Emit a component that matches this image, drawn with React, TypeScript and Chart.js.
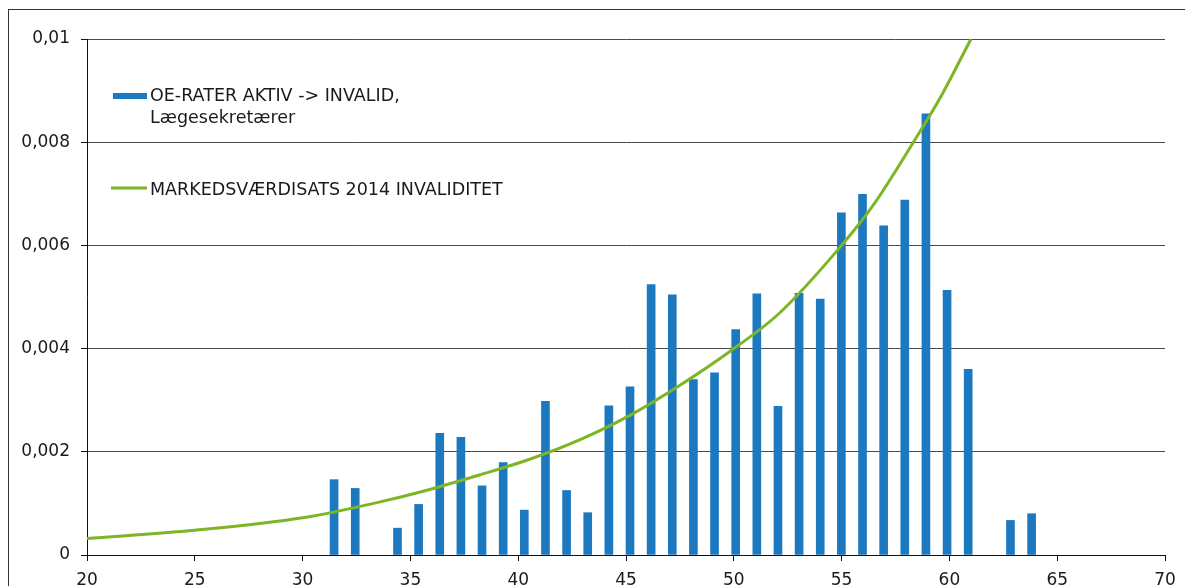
import React, { useEffect, useRef } from 'react';
import { Chart, registerables } from 'chart.js';

Chart.register(...registerables);

// Bars: observed rates per age (category axis 20..70 in the original)
const barAges = [31, 32, 34, 35, 36, 37, 38, 39, 40, 41, 42, 43, 44, 45, 46, 47, 48, 49, 50, 51, 52, 53, 54, 55, 56, 57, 58, 59, 60, 61, 63, 64];
const barRates = [0.00146, 0.00129, 0.00052, 0.00098, 0.00236, 0.00228, 0.00134, 0.00179, 0.00087, 0.00298, 0.00125, 0.00082, 0.00289, 0.00326, 0.00524, 0.00504, 0.00340, 0.00353, 0.00437, 0.00506, 0.00288, 0.00507, 0.00496, 0.00663, 0.00699, 0.00638, 0.00688, 0.00855, 0.00513, 0.00360, 0.00067, 0.00080];

// Line: market-value rate curve (read at these ages)
const curveAges = [20, 25, 30, 33.6, 35.9, 38.2, 40.5, 42.9, 45.2, 47.5, 49.8, 52.1, 55, 56.5, 58.3, 59.6, 61];
const curveRates = [0.00032, 0.00048, 0.00072, 0.00103, 0.00127, 0.00155, 0.00185, 0.00224, 0.00271, 0.00329, 0.00394, 0.00468, 0.00600, 0.00680, 0.00798, 0.00888, 0.01000];

const xTickLabels = ['20', '25', '30', '35', '40', '45', '50', '55', '60', '65', '70'];
const yTickLabels = ['0', '0,002', '0,004', '0,006', '0,008', '0,01'];

const barLabelLines = ['OE-RATER AKTIV -> INVALID,', 'Lægesekretærer'];
const lineLabel = 'MARKEDSVÆRDISATS 2014 INVALIDITET';

const BAR_COLOR = '#1c79c0';
const LINE_COLOR = '#7db524';
const TEXT_COLOR = '#1a1a1a';
const FONT = '"DejaVu Sans", Verdana, sans-serif';

export default function App() {
  const canvasRef = useRef<HTMLCanvasElement | null>(null);

  useEffect(() => {
    const canvas = canvasRef.current;
    if (!canvas) return;

    const framePlugin = {
      id: 'frame',
      beforeDraw(chart: any) {
        const ctx = chart.ctx;
        ctx.save();
        ctx.fillStyle = '#ffffff';
        ctx.fillRect(0, 0, chart.width, chart.height);
        ctx.strokeStyle = '#333333';
        ctx.lineWidth = 1;
        ctx.strokeRect(8.5, 9.5, chart.width + 50, chart.height + 50);
        ctx.restore();
      },
    };

    const legendPlugin = {
      id: 'insideLegend',
      afterDraw(chart: any) {
        const ctx = chart.ctx;
        const a = chart.chartArea;
        const mx = a.left + 26;
        const tx = a.left + 63;
        ctx.save();
        ctx.fillStyle = BAR_COLOR;
        ctx.fillRect(mx, a.top + 54, 34, 6);
        ctx.strokeStyle = LINE_COLOR;
        ctx.lineWidth = 3;
        ctx.beginPath();
        ctx.moveTo(mx - 2, a.top + 149);
        ctx.lineTo(mx + 34, a.top + 149);
        ctx.stroke();
        ctx.fillStyle = TEXT_COLOR;
        ctx.font = '17.5px ' + FONT;
        ctx.textBaseline = 'alphabetic';
        ctx.textAlign = 'left';
        ctx.fillText(barLabelLines[0], tx, a.top + 62);
        ctx.fillText(barLabelLines[1], tx, a.top + 84);
        ctx.fillText(lineLabel, tx, a.top + 156);
        ctx.restore();
      },
    };

    const chart = new Chart(canvas, {
      type: 'bar',
      data: {
        datasets: [
          {
            type: 'line',
            label: lineLabel,
            data: curveAges.map((a, i) => ({ x: a, y: curveRates[i] })),
            xAxisID: 'x',
            yAxisID: 'y',
            borderColor: LINE_COLOR,
            backgroundColor: LINE_COLOR,
            borderWidth: 3,
            pointRadius: 0,
            cubicInterpolationMode: 'monotone',
            fill: false,
            order: 0,
          } as any,
          {
            type: 'bar',
            label: barLabelLines.join(' '),
            data: barAges.map((a, i) => ({ x: a, y: barRates[i] })),
            xAxisID: 'xb',
            yAxisID: 'y',
            backgroundColor: BAR_COLOR,
            borderWidth: 0,
            barThickness: 8,
            order: 1,
          } as any,
        ],
      },
      options: {
        animation: false,
        responsive: false,
        maintainAspectRatio: false,
        layout: { padding: { left: 0, top: 39, right: 20, bottom: 0 } },
        plugins: {
          legend: { display: false },
          tooltip: { enabled: false },
        },
        scales: {
          xb: {
            type: 'linear',
            display: false,
            offset: false,
            min: 19.5,
            max: 70.5,
            grid: { offset: false },
          },
          x: {
            type: 'linear',
            position: 'bottom',
            offset: false,
            min: 20,
            max: 70,
            ticks: {
              stepSize: 5,
              autoSkip: false,
              maxRotation: 0,
              padding: 9,
              color: TEXT_COLOR,
              font: { family: FONT, size: 17 },
              callback: (_v: any, i: number) => xTickLabels[i],
            },
            grid: {
              offset: false,
              drawOnChartArea: false,
              drawTicks: true,
              tickLength: 6,
              tickColor: '#111111',
            },
            border: { display: true, color: '#111111', width: 1 },
            afterFit: (scale: any) => {
              scale.height = 31;
            },
          },
          y: {
            type: 'linear',
            min: 0,
            max: 0.01,
            ticks: {
              stepSize: 0.002,
              padding: 11,
              color: TEXT_COLOR,
              font: { family: FONT, size: 17 },
              callback: (_v: any, i: number) => yTickLabels[i],
            },
            grid: {
              color: '#4a4a4a',
              lineWidth: 1,
              drawTicks: true,
              tickLength: 6,
              tickColor: '#111111',
            },
            border: { display: true, color: '#111111', width: 1 },
            afterFit: (scale: any) => {
              scale.width = 87;
            },
          },
        },
      } as any,
      plugins: [framePlugin, legendPlugin],
    });

    return () => {
      chart.destroy();
    };
  }, []);

  return (
    <div style={{ position: 'fixed', left: 0, top: 0, width: 1185, height: 586, background: '#fff' }}>
      <canvas ref={canvasRef} width={1185} height={586} style={{ display: 'block' }} />
    </div>
  );
}
